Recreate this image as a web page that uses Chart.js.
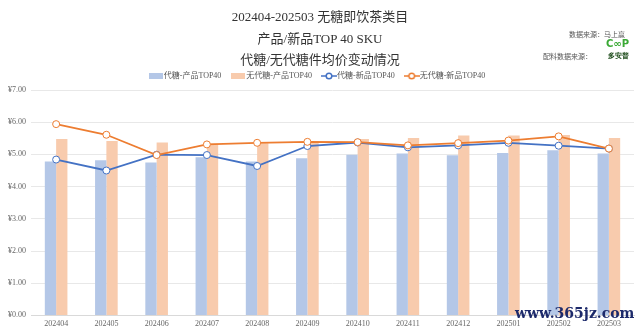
<!DOCTYPE html>
<html>
<head>
<meta charset="utf-8">
<script src="https://cdn.jsdelivr.net/npm/chart.js@4"></script>
<style>
  html, body { margin: 0; padding: 0; background: #fff; }
  #wrap { position: relative; width: 640px; height: 333px; overflow: hidden; }
  #chart { position: absolute; left: 0; top: 0; }
  .title { position: absolute; left: 0; width: 640px; text-align: center; font-family: "Liberation Serif", "Noto Sans CJK SC", serif; font-size: 13px; color: #333; }
  .src { position: absolute; font-family: "Noto Sans CJK SC", sans-serif; font-size: 7px; color: #555; }
  .logo { position: absolute; font-family: "DejaVu Sans", sans-serif; font-weight: bold; }
  .mark { position: absolute; left: 515px; top: 305px; font-family: "DejaVu Serif", serif; font-weight: bold; font-size: 14px; color: #1d2a6b; }
</style>
</head>
<body>
<div id="wrap">
  <canvas id="chart" width="640" height="333"></canvas>
  <div class="title" style="top:6px">202404-202503 无糖即饮茶类目</div>
  <div class="title" style="top:28px">产品/新品TOP 40 SKU</div>
  <div class="title" style="top:49px">代糖/无代糖件均价变动情况</div>
  <div class="src" style="left:569px; top:29px">数据来源：马上赢</div>
  <div class="src" style="left:543px; top:51px">配料数据来源：</div>
  <div class="logo" style="left:606px; top:38px; font-size:10px; color:#3aa935">C∞P</div>
  <div class="logo" style="left:608px; top:51px; font-size:7px; color:#1f4d1c">多安普</div>
  <div class="mark">www.365jz.com</div>
</div>
<script>
const months = ["202404", "202405", "202406", "202407", "202408", "202409",
  "202410", "202411", "202412", "202501", "202502", "202503"];

// average price per item, CNY
const sweetenerProducts = [4.78, 4.82, 4.75, 4.91, 4.78, 4.88, 4.99, 5.03, 4.97, 5.04, 5.13, 5.03];
const plainProducts = [5.48, 5.42, 5.37, 5.33, 5.35, 5.38, 5.48, 5.51, 5.59, 5.59, 5.60, 5.51];
const sweetenerNew = [4.84, 4.50, 4.99, 4.98, 4.64, 5.26, 5.37, 5.22, 5.28, 5.36, 5.27, 5.18];
const plainNew = [5.94, 5.61, 4.98, 5.31, 5.36, 5.39, 5.38, 5.28, 5.35, 5.43, 5.56, 5.18];

const yTicks = [0, 1, 2, 3, 4, 5, 6, 7];

const blueBar = "#b4c7e7";
const orangeBar = "#f8cbad";
const blueLine = "#4472c4";
const orangeLine = "#ed7d31";

// small legend swatches: flat block for bars, line with hollow dot for lines
function barSwatch(color) {
  const c = document.createElement("canvas");
  c.width = 14; c.height = 6;
  const ctx = c.getContext("2d");
  ctx.fillStyle = color;
  ctx.fillRect(0, 0, 14, 6);
  return c;
}

function lineSwatch(color) {
  const c = document.createElement("canvas");
  c.width = 16; c.height = 8;
  const ctx = c.getContext("2d");
  ctx.strokeStyle = color;
  ctx.lineWidth = 1.5;
  ctx.beginPath();
  ctx.moveTo(0, 4); ctx.lineTo(16, 4);
  ctx.stroke();
  ctx.fillStyle = "#fff";
  ctx.beginPath();
  ctx.arc(8, 4, 2.8, 0, Math.PI * 2);
  ctx.fill();
  ctx.stroke();
  return c;
}

const serif = "'Liberation Serif', 'Noto Sans CJK SC', serif";

new Chart(document.getElementById("chart"), {
  data: {
    labels: months,
    datasets: [
      {
        type: "bar",
        label: "代糖-产品TOP40",
        data: sweetenerProducts,
        backgroundColor: blueBar,
        categoryPercentage: 0.45,
        barPercentage: 1.0,
        order: 2
      },
      {
        type: "bar",
        label: "无代糖-产品TOP40",
        data: plainProducts,
        backgroundColor: orangeBar,
        categoryPercentage: 0.45,
        barPercentage: 1.0,
        order: 2
      },
      {
        type: "line",
        label: "代糖-新品TOP40",
        data: sweetenerNew,
        borderColor: blueLine,
        borderWidth: 1.8,
        pointRadius: 3.5,
        pointBackgroundColor: "#fff",
        pointBorderColor: blueLine,
        pointBorderWidth: 1,
        tension: 0,
        order: 1
      },
      {
        type: "line",
        label: "无代糖-新品TOP40",
        data: plainNew,
        borderColor: orangeLine,
        borderWidth: 1.8,
        pointRadius: 3.5,
        pointBackgroundColor: "#fff",
        pointBorderColor: orangeLine,
        pointBorderWidth: 1,
        tension: 0,
        order: 0
      }
    ]
  },
  options: {
    responsive: false,
    animation: false,
    layout: { padding: { top: 59, left: 3, right: 6, bottom: 0 } },
    plugins: {
      legend: {
        position: "top",
        labels: {
          usePointStyle: true,
          boxHeight: 8,
          padding: 13,
          color: "#555",
          font: { family: serif, size: 8 },
          generateLabels(chart) {
            const swatches = [barSwatch(blueBar), barSwatch(orangeBar), lineSwatch(blueLine), lineSwatch(orangeLine)];
            return chart.data.datasets.map((ds, i) => ({
              text: ds.label,
              pointStyle: swatches[i],
              fillStyle: "transparent",
              strokeStyle: "transparent",
              lineWidth: 0,
              fontColor: "#555",
              datasetIndex: i,
              hidden: false
            }));
          }
        }
      },
      tooltip: { enabled: false }
    },
    scales: {
      x: {
        grid: { display: false, drawTicks: false },
        border: { color: "#d9d9d9" },
        ticks: { color: "#666", font: { family: serif, size: 8 }, maxRotation: 0, padding: 4 }
      },
      y: {
        min: 0,
        max: 7,
        afterBuildTicks(axis) { axis.ticks = yTicks.map((v) => ({ value: v })); },
        grid: { color: "#e8e8e8", drawTicks: false },
        border: { display: false },
        ticks: {
          color: "#666",
          padding: 5,
          font: { family: serif, size: 8 },
          callback: (v) => "¥" + Number(v).toFixed(2)
        }
      }
    }
  }
});
</script>
</body>
</html>
